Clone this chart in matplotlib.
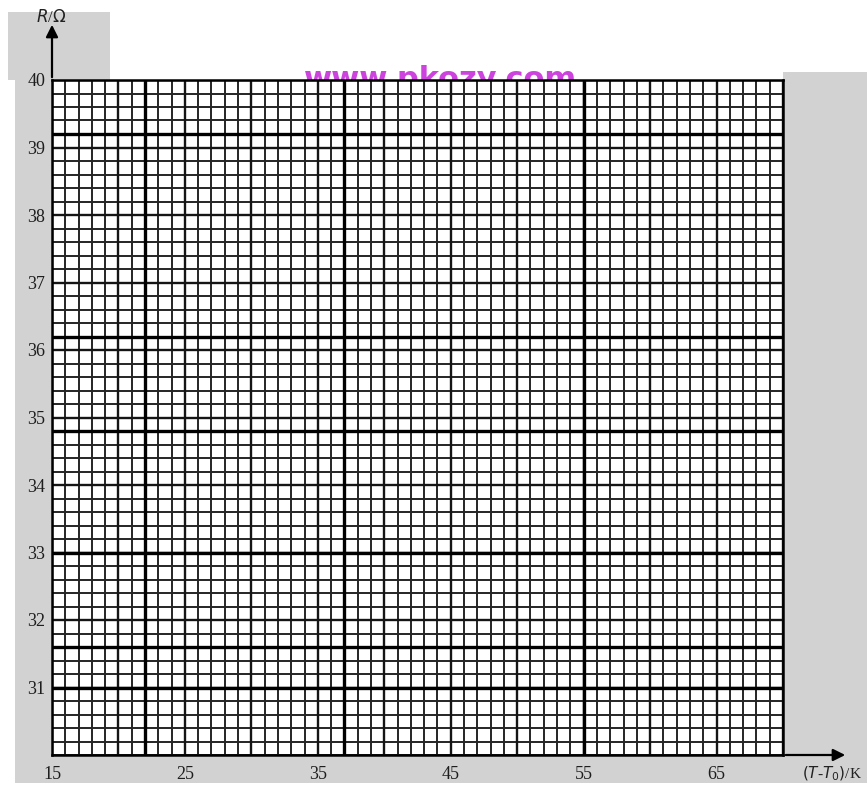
import matplotlib.pyplot as plt
from matplotlib.patches import Rectangle
from matplotlib.ticker import MultipleLocator

# axis ranges and labelled ticks
x_range = [15, 70]
y_range = [30, 40]
x_ticks = [15, 25, 35, 45, 55, 65]
y_ticks = [31, 32, 33, 34, 35, 36, 37, 38, 39, 40]
x_minor_step = 1
y_minor_step = 0.2

# a few darker printed lines seen on the scan
heavy_x = [22, 37, 55]
heavy_y = [39.2, 36.2, 34.8, 33.0, 31.6, 31.0]

W, H = 867, 787


def add_box(fig, x0, y0, x1, y1, color='#d2d2d2'):
    """grey box given in pixels, top-left origin"""
    fig.patches.append(Rectangle((x0 / W, 1 - y1 / H), (x1 - x0) / W, (y1 - y0) / H,
                                 transform=fig.transFigure, facecolor=color,
                                 edgecolor='none', zorder=-5))


def main():
    fig = plt.figure(figsize=(W / 100, H / 100), dpi=100, facecolor='white')

    # grey scan background
    add_box(fig, 15, 80, 867, 783)
    add_box(fig, 783, 72, 867, 80)
    add_box(fig, 8, 12, 110, 80)

    # watermark, half hidden behind the paper
    fig.text(440 / W, 1 - 79 / H, 'www.pkozy.com', color='#cc44dd', fontsize=22,
             fontweight='bold', ha='center', va='center', zorder=-2)

    ax = fig.add_axes((52 / W, 1 - 755 / H, 731 / W, 675 / H), zorder=0)
    ax.set_facecolor('white')
    ax.set_xlim(*x_range)
    ax.set_ylim(*y_range)

    ax.set_xticks(x_ticks)
    ax.set_yticks(y_ticks)
    ax.xaxis.set_minor_locator(MultipleLocator(x_minor_step))
    ax.yaxis.set_minor_locator(MultipleLocator(y_minor_step))
    ax.tick_params(which='both', length=0)
    ax.tick_params(axis='x', pad=8)
    ax.tick_params(axis='y', pad=5)
    for lab in ax.get_xticklabels() + ax.get_yticklabels():
        lab.set_fontfamily('Liberation Serif')
        lab.set_fontsize(13)
        lab.set_color('#1e1e1e')

    ax.grid(which='both', color='#252525', linewidth=1.4)
    for xv in range(x_range[0], x_range[1] + 1, 5):
        ax.axvline(xv, color='#151515', linewidth=1.7)
    for yv in y_ticks:
        ax.axhline(yv, color='#151515', linewidth=1.7)
    for xv in heavy_x:
        ax.axvline(xv, color='black', linewidth=2.4)
    for yv in heavy_y:
        ax.axhline(yv, color='black', linewidth=2.4)

    for s in ax.spines.values():
        s.set_color('black')
        s.set_linewidth(1.8)

    # axis arrows
    ax.annotate('', xy=(52 / W, 1 - 22 / H), xytext=(52 / W, 1 - 80 / H),
                xycoords='figure fraction',
                arrowprops=dict(arrowstyle='-|>', color='black', lw=1.6,
                                mutation_scale=18))
    ax.annotate('', xy=(848 / W, 1 - 755 / H), xytext=(783 / W, 1 - 755 / H),
                xycoords='figure fraction',
                arrowprops=dict(arrowstyle='-|>', color='black', lw=1.6,
                                mutation_scale=18))

    fig.text(36 / W, 1 - 18 / H, r'$R$/$\Omega$', fontsize=12, color='#222222',
             family='Liberation Serif', va='center', ha='left')
    fig.text(862 / W, 1 - 774 / H, r'$(T$-$T_0)$/K', fontsize=11, color='#222222',
             family='Liberation Serif', va='center', ha='right')

    fig.savefig('out.png', dpi=100, facecolor=fig.get_facecolor())
    plt.close(fig)


if __name__ == "__main__":
    main()
